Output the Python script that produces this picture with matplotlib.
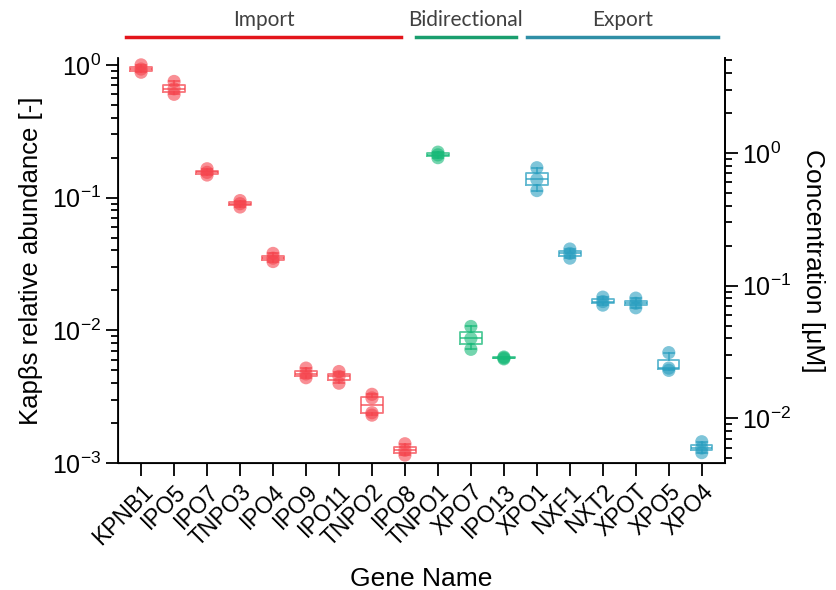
import numpy as np
import matplotlib
matplotlib.use('Agg')
import matplotlib.pyplot as plt
import matplotlib.transforms as mtransforms
from matplotlib.ticker import LogLocator, NullFormatter

plt.rcParams['font.family'] = ['Liberation Sans', 'DejaVu Sans']

genes = ['KPNB1', 'IPO5', 'IPO7', 'TNPO3', 'IPO4', 'IPO9', 'IPO11', 'TNPO2', 'IPO8',
         'TNPO1', 'XPO7', 'IPO13',
         'XPO1', 'NXF1', 'NXT2', 'XPOT', 'XPO5', 'XPO4']
groups = ['import'] * 9 + ['bidir'] * 3 + ['export'] * 6

# relative abundance replicates per gene
abundance = [
    [1.0, 0.93, 0.88],
    [0.75, 0.66, 0.60],
    [0.165, 0.155, 0.148],
    [0.095, 0.09, 0.085],
    [0.038, 0.035, 0.033],
    [0.0052, 0.0047, 0.0044],
    [0.0049, 0.0045, 0.0040],
    [0.0033, 0.0031, 0.0024, 0.0023],
    [0.0014, 0.00125, 0.00115],
    [0.22, 0.21, 0.20],
    [0.0107, 0.0087, 0.0072],
    [0.0063, 0.0062, 0.0061],
    [0.168, 0.137, 0.113],
    [0.041, 0.038, 0.035],
    [0.0178, 0.0165, 0.0155],
    [0.0175, 0.016, 0.0148],
    [0.0068, 0.0052, 0.0050],
    [0.00145, 0.0013, 0.0012],
]

header_labels = ['Import', 'Bidirectional', 'Export']
header_spans = [(-0.45, 7.88), (8.33, 11.36), (11.70, 17.48)]

colors = {'import': '#F5454E', 'bidir': '#17B978', 'export': '#2A9FC0'}
header_colors = ['#E3151B', '#1A9E6E', '#2F8FA6']

conc_factor = 4.6  # right axis = left axis * factor

fig = plt.figure(figsize=(8.37, 5.9), dpi=100)
ax = fig.add_axes([0.141, 0.215, 0.725, 0.687])

for i, (vals, grp) in enumerate(zip(abundance, groups)):
    c = colors[grp]
    ax.boxplot([vals], positions=[i], widths=0.65, whis=(0, 100), showfliers=False,
               capwidths=0.3,
               boxprops=dict(color=c, lw=1.3, alpha=0.75),
               medianprops=dict(color=c, lw=1.3, alpha=0.75),
               whiskerprops=dict(color=c, lw=1.3, alpha=0.75),
               capprops=dict(color=c, lw=1.3, alpha=0.75))
    ax.scatter([i] * len(vals), vals, s=90, color=c, alpha=0.6, edgecolors='none', zorder=3)

ax.set_yscale('log')
ax.set_ylim(1e-3, 1.13)
ax.set_xlim(-0.7, 17.7)
ax.set_xticks(range(len(genes)))
ax.set_xticklabels(genes, rotation=45, ha='right', rotation_mode='anchor', fontsize=16.5)
ax.yaxis.set_major_locator(LogLocator(base=10, numticks=10))
ax.yaxis.set_minor_locator(LogLocator(base=10, subs=np.arange(2, 10), numticks=10))
ax.yaxis.set_minor_formatter(NullFormatter())
ax.tick_params(axis='y', which='major', length=9, width=1.3, labelsize=18)
ax.tick_params(axis='y', which='minor', length=5, width=1.3)
ax.tick_params(axis='x', length=9, width=1.3)
ax.spines['top'].set_visible(False)
for s in ['left', 'bottom', 'right']:
    ax.spines[s].set_linewidth(1.3)
ax.set_ylabel('Kapβs relative abundance [-]', fontsize=18.5, labelpad=6)
ax.set_xlabel('Gene Name', fontsize=19, labelpad=12)

ax2 = ax.twinx()
ax2.set_yscale('log')
ax2.set_ylim(1e-3 * conc_factor, 1.13 * conc_factor)
ax2.yaxis.set_major_locator(LogLocator(base=10, numticks=10))
ax2.yaxis.set_minor_locator(LogLocator(base=10, subs=np.arange(2, 10), numticks=10))
ax2.yaxis.set_minor_formatter(NullFormatter())
ax2.tick_params(axis='y', which='major', length=9, width=1.3, labelsize=18)
ax2.tick_params(axis='y', which='minor', length=5, width=1.3)
ax2.spines['top'].set_visible(False)
ax2.spines['right'].set_linewidth(1.3)
ax2.set_ylabel('Concentration [μM]', fontsize=19, rotation=270, labelpad=24)

trans = mtransforms.blended_transform_factory(ax.transData, fig.transFigure)
for label, (x0, x1), hc in zip(header_labels, header_spans, header_colors):
    ax.plot([x0, x1], [0.937, 0.937], color=hc, lw=2.5, transform=trans, clip_on=False)
    ax.text((x0 + x1) / 2, 0.966, label, transform=trans, ha='center', va='center',
            fontsize=15, color='#404040', family=['Lato', 'DejaVu Sans'])

fig.savefig('out.png', dpi=100)
